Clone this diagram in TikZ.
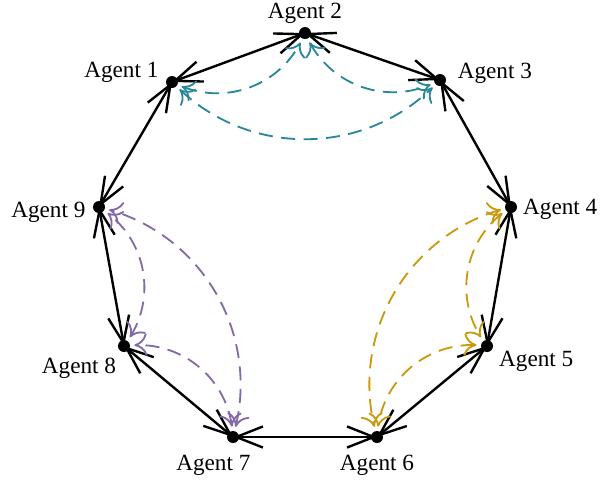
\documentclass[tikz,border=0pt]{standalone}
\usepackage{fontspec}
\setmainfont{Liberation Serif}
\usetikzlibrary{positioning, arrows.meta, bending}
\definecolor{cTeal}{HTML}{2A879B}
\definecolor{cPurple}{HTML}{8469A8}
\definecolor{cGold}{HTML}{C89A0C}
\tikzset{
  agent/.style={circle, fill=black, inner sep=0pt, minimum size=0.3cm},
  agentlabel/.style={font=\fontsize{16.5}{20}\selectfont, inner sep=1pt},
  link/.style={line width=1.7pt, line cap=round,
    {Straight Barb[length=19pt,width=15pt]}-{Straight Barb[length=19pt,width=15pt]}},
  comm/.style={line width=1.3pt, dash pattern=on 10pt off 6pt,
    {To[length=9pt,width=16pt]}-{To[length=9pt,width=16pt]},
    shorten <=3pt, shorten >=3pt, bend right=45},
}

\begin{document}
\begin{tikzpicture}[x=0.025cm, y=-0.025cm]
  \useasboundingbox (0,0) rectangle (600,483);
  % agents
  \node[agent] (a1) at (172,82) {};
  \node[agent] (a2) at (305,33) {};
  \node[agent] (a3) at (440,80) {};
  \node[agent] (a4) at (511,207) {};
  \node[agent] (a5) at (487,346) {};
  \node[agent] (a6) at (377,437) {};
  \node[agent] (a7) at (233,437) {};
  \node[agent] (a8) at (124,346) {};
  \node[agent] (a9) at (99,207) {};
  % labels
  \node[agentlabel, left=4pt of a1, yshift=7pt] (l1) {Agent 1};
  \node[agentlabel, above=1pt of a2] (l2) {Agent 2};
  \node[agentlabel, right=7pt of a3, yshift=5pt] (l3) {Agent 3};
  \node[agentlabel, right=3pt of a4, yshift=-2pt] (l4) {Agent 4};
  \node[agentlabel, right=3pt of a5, yshift=-11pt] (l5) {Agent 5};
  \node[agentlabel, below=7pt of a6] (l6) {Agent 6};
  \node[agentlabel, below=7pt of a7, xshift=-14pt] (l7) {Agent 7};
  \node[agentlabel, left=0pt of a8, yshift=-16pt] (l8) {Agent 8};
  \node[agentlabel, left=4pt of a9, yshift=-4pt] (l9) {Agent 9};
  % ring
  \foreach \i/\j in {1/2, 2/3, 3/4, 4/5, 5/6, 6/7, 7/8, 8/9, 9/1}
    \draw[link] (a\i.center) -- (a\j.center);
  % groups
  \draw[comm, cTeal] (a1) to (a2);
  \draw[comm, cTeal] (a2) to (a3);
  \draw[comm, cTeal] (a1) to (a3);
  \draw[comm, cGold] (a4) to (a5);
  \draw[comm, cGold] (a5) to (a6);
  \draw[comm, cGold] (a4) to (a6);
  \draw[comm, cPurple] (a7) to (a8);
  \draw[comm, cPurple] (a8) to (a9);
  \draw[comm, cPurple] (a7) to (a9);
\end{tikzpicture}
\end{document}
